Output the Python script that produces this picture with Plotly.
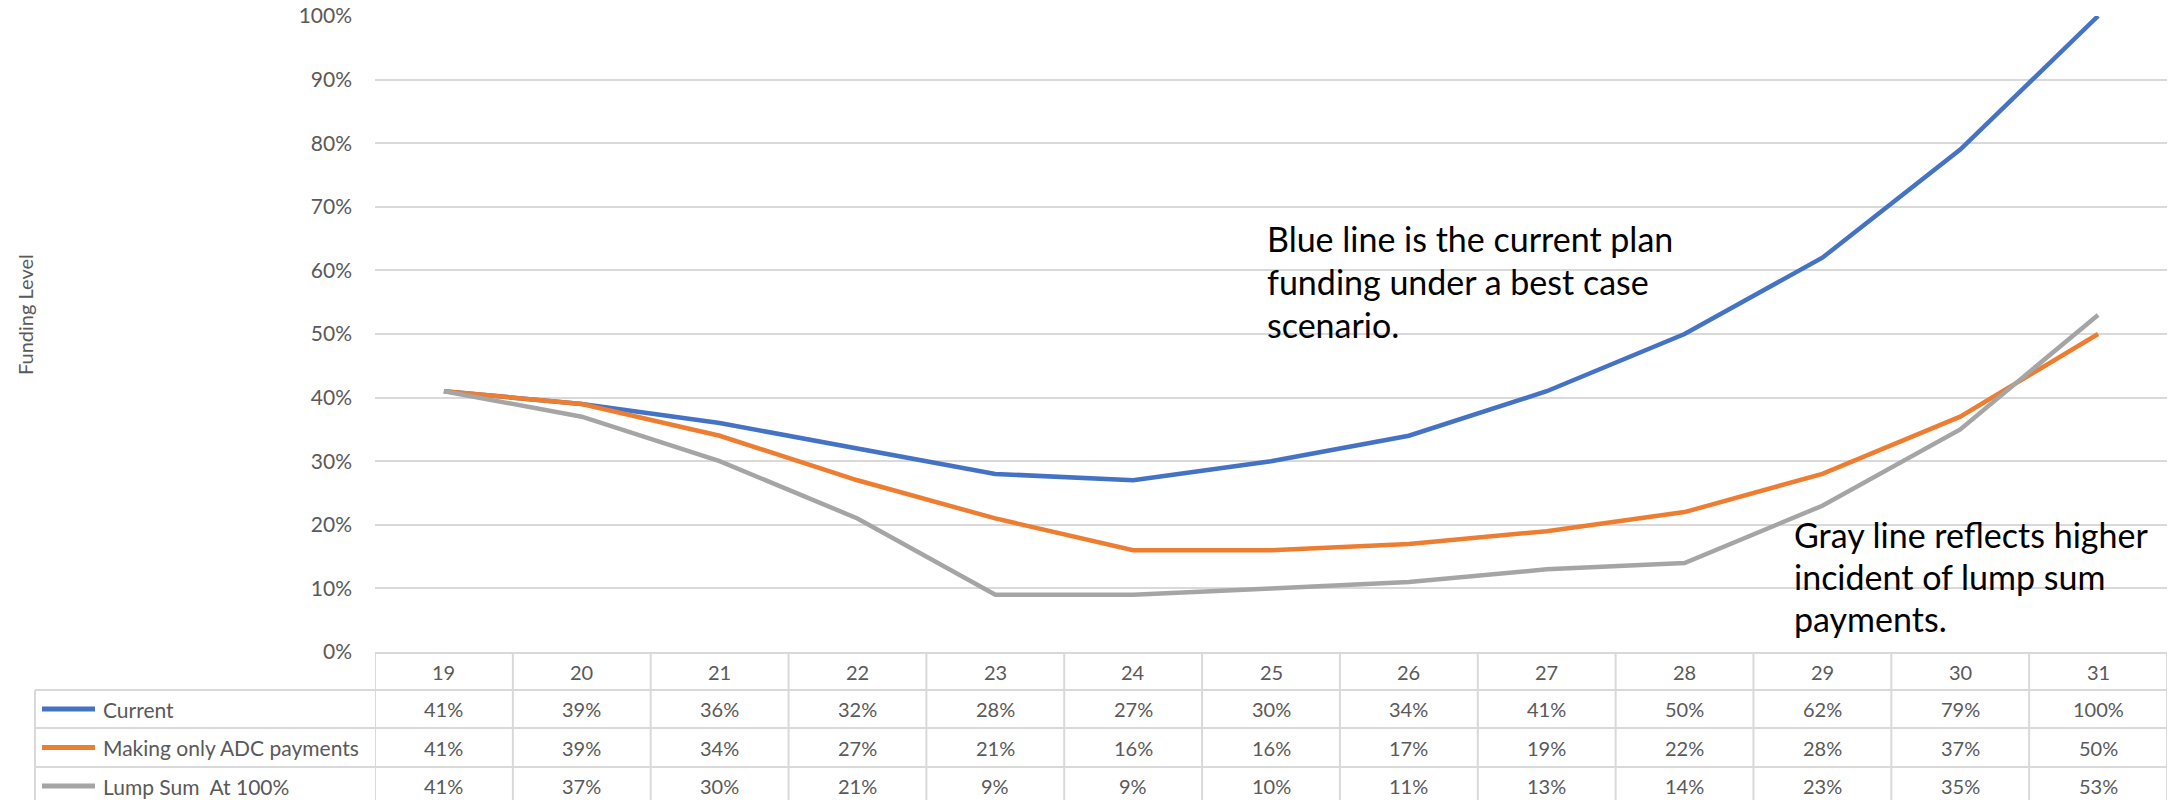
import plotly.graph_objects as go

categories = [19, 20, 21, 22, 23, 24, 25, 26, 27, 28, 29, 30, 31]
current = [41, 39, 36, 32, 28, 27, 30, 34, 41, 50, 62, 79, 100]
adc_only = [41, 39, 34, 27, 21, 16, 16, 17, 19, 22, 28, 37, 50]
lump_sum = [41, 37, 30, 21, 9, 9, 10, 11, 13, 14, 23, 35, 53]
series_names = ["Current", "Making only ADC payments", "Lump Sum  At 100%"]
series_colors = ["#4472C4", "#ED7D31", "#A5A5A5"]
y_ticks = [0, 10, 20, 30, 40, 50, 60, 70, 80, 90, 100]
note_blue = ["Blue line is the current plan", "funding under a best case", "scenario."]
note_gray = ["Gray line reflects higher", "incident of lump sum", "payments."]

W, H = 2183, 800
L, R, T, B = 375, 16, 16, 148
PW, PH = W - L - R, H - T - B
FONT = "Lato"
GRID = "#d9d9d9"
TXT = "#595959"


def py(p):
    return (H - B - p) / PH


def px(p):
    return (p - L) / PW


xs = list(range(len(categories)))
series = [current, adc_only, lump_sum]

fig = go.Figure()
for name, vals, col in zip(series_names, series, series_colors):
    fig.add_trace(go.Scatter(
        x=xs, y=[v / 100 for v in vals], mode="lines", name=name,
        line=dict(color=col, width=4.5), showlegend=False,
    ))

shapes = []
annotations = []

# table horizontal borders
shapes.append(dict(type="line", xref="paper", yref="paper", x0=0, x1=1,
                   y0=py(653), y1=py(653), line=dict(color=GRID, width=2)))
for yy in [690, 728, 767]:
    shapes.append(dict(type="line", xref="paper", yref="paper", x0=px(35), x1=1,
                       y0=py(yy), y1=py(yy), line=dict(color=GRID, width=2)))
# vertical borders
for i in range(len(categories) + 1):
    shapes.append(dict(type="line", xref="x", yref="paper", x0=i - 0.5, x1=i - 0.5,
                       y0=py(653), y1=py(810), line=dict(color=GRID, width=2)))
shapes.append(dict(type="line", xref="paper", yref="paper", x0=px(35), x1=px(35),
                   y0=py(690), y1=py(810), line=dict(color=GRID, width=2)))

# header row
for i, c in enumerate(categories):
    annotations.append(dict(xref="x", yref="paper", x=i, y=py(671.5), text=str(c),
                            showarrow=False, font=dict(family=FONT, size=20, color=TXT),
                            xanchor="center", yanchor="middle"))

row_centers = [709, 747.5, 786]
for name, vals, col, rc in zip(series_names, series, series_colors, row_centers):
    shapes.append(dict(type="line", xref="paper", yref="paper", x0=px(42), x1=px(95),
                       y0=py(rc), y1=py(rc), line=dict(color=col, width=5)))
    annotations.append(dict(xref="paper", yref="paper", x=px(101), y=py(rc), text=name,
                            showarrow=False, font=dict(family=FONT, size=21, color=TXT),
                            xanchor="left", yanchor="middle"))
    for i, v in enumerate(vals):
        annotations.append(dict(xref="x", yref="paper", x=i, y=py(rc), text=f"{v}%",
                                showarrow=False, font=dict(family=FONT, size=20, color=TXT),
                                xanchor="center", yanchor="middle"))

# notes
for line, yy in zip(note_blue, [238, 281, 324]):
    annotations.append(dict(xref="paper", yref="paper", x=px(1265), y=py(yy), text=line,
                            showarrow=False, font=dict(family=FONT, size=34, color="#000000"),
                            xanchor="left", yanchor="middle"))
for line, yy in zip(note_gray, [534, 576, 618]):
    annotations.append(dict(xref="paper", yref="paper", x=px(1792), y=py(yy), text=line,
                            showarrow=False, font=dict(family=FONT, size=34, color="#000000"),
                            xanchor="left", yanchor="middle"))

# y-axis title
annotations.append(dict(xref="paper", yref="paper", x=px(25), y=py(315), text="Funding Level",
                        textangle=-90, showarrow=False,
                        font=dict(family=FONT, size=20, color=TXT),
                        xanchor="center", yanchor="middle"))

fig.update_layout(
    width=W, height=H,
    margin=dict(l=L, r=R, t=T, b=B, pad=0, autoexpand=False),
    paper_bgcolor="white", plot_bgcolor="white",
    font=dict(family=FONT, color=TXT),
    shapes=shapes, annotations=annotations,
    xaxis=dict(range=[-0.5, len(categories) - 0.5], showticklabels=False,
               showgrid=False, zeroline=False, showline=False, fixedrange=True,
               automargin=False),
    yaxis=dict(range=[0, 1], tickvals=[t / 100 for t in y_ticks],
               ticktext=[f"{t}%" for t in y_ticks],
               showgrid=True, gridcolor=GRID, gridwidth=2, zeroline=False,
               showline=False, ticks="", ticklabelstandoff=22, automargin=False,
               tickfont=dict(family=FONT, size=21, color=TXT)),
)

fig.write_html("out.html")
